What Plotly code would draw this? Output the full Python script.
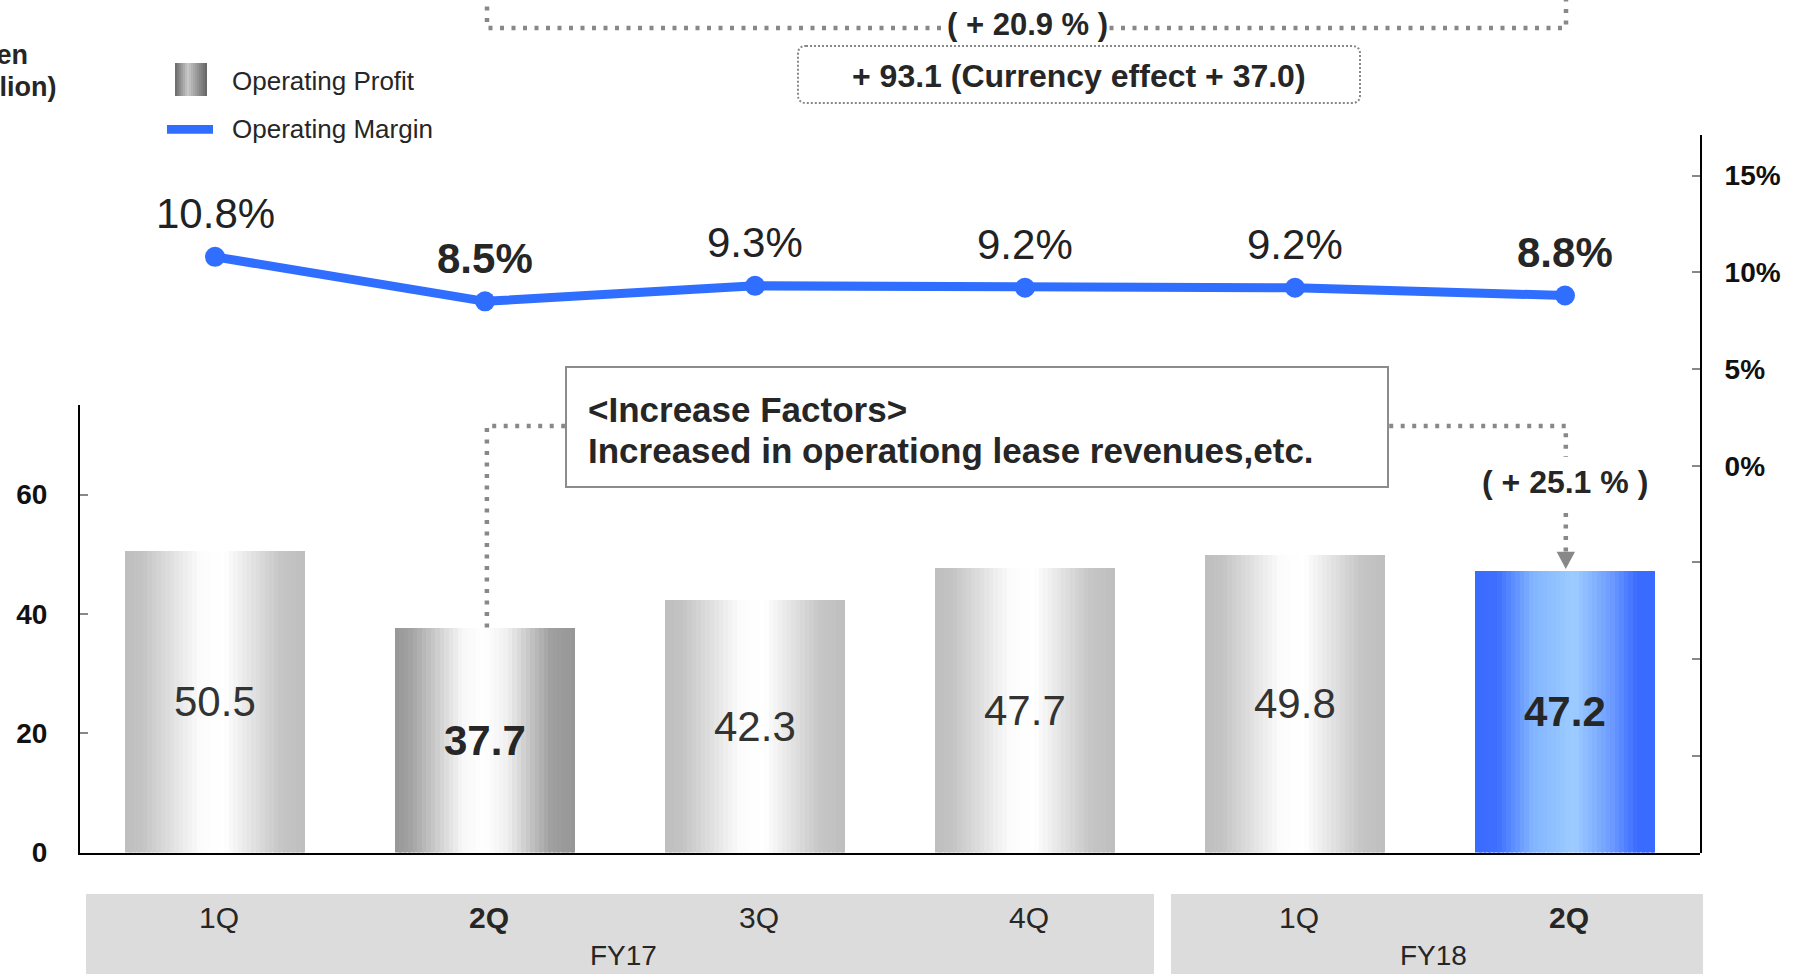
import plotly.graph_objects as go

# ---------------- data ----------------
quarters = ["1Q", "2Q", "3Q", "4Q", "1Q", "2Q"]
fiscal_years = ["FY17", "FY18"]
fiscal_year_members = [[0, 1, 2, 3], [4, 5]]
operating_profit = [50.5, 37.7, 42.3, 47.7, 49.8, 47.2]
operating_margin = [10.8, 8.5, 9.3, 9.2, 9.2, 8.8]
highlight = [False, True, False, False, False, True]
profit_ticks = [0, 20, 40, 60]
margin_ticks = [-20, -15, -10, -5, 0, 5, 10, 15]
margin_tick_labels = ["", "", "", "", "0%", "5%", "10%", "15%"]
legend_names = ["Operating Profit", "Operating Margin"]
unit_lines = ["(Yen", "billion)"]
half_growth = "( + 20.9 % )"
half_detail = "+ 93.1 (Currency effect + 37.0)"
q_growth = "( + 25.1 % )"
factor_title = "&lt;Increase Factors&gt;"
factor_text = "Increased in operationg lease revenues,etc."

# ---------------- style ----------------
W, H = 1800, 974
FONT = "Liberation Sans, Arial, sans-serif"
TXT = "#262626"
DOT = "#888888"
BLUE = "#2f6eff"
styles = ["dark" if h else "gray" for h in highlight]
styles[-1] = "blue"

gradients = {
    "gray": [(0.0, (190, 190, 190)), (0.1, (196, 196, 196)), (0.42, (252, 252, 252)),
             (0.55, (255, 255, 255)), (0.86, (198, 198, 198)), (1.0, (190, 190, 190))],
    "dark": [(0.0, (150, 150, 150)), (0.1, (165, 165, 165)), (0.38, (248, 248, 248)),
             (0.5, (255, 255, 255)), (0.62, (240, 240, 240)), (0.86, (160, 160, 160)),
             (1.0, (150, 150, 150))],
    "blue": [(0.0, (58, 107, 255)), (0.13, (62, 112, 255)), (0.32, (130, 180, 255)),
             (0.55, (157, 205, 255)), (0.76, (108, 154, 255)), (0.9, (58, 107, 255)),
             (1.0, (58, 107, 255))],
    "legend": [(0.0, (105, 105, 105)), (0.4, (200, 200, 200)), (1.0, (100, 100, 100))],
}


def grad_color(name, t):
    stops = gradients[name]
    for (p0, c0), (p1, c1) in zip(stops[:-1], stops[1:]):
        if p0 <= t <= p1:
            f = 0 if p1 == p0 else (t - p0) / (p1 - p0)
            c = [round(a + (b - a) * f) for a, b in zip(c0, c1)]
            return "rgb(%d,%d,%d)" % tuple(c)
    return "rgb(%d,%d,%d)" % stops[-1][1]


def px(x):
    return x / W


def py(y):
    return 1 - y / H


X0, X1 = 80, 1700
Y_BOTTOM, Y_TOP, Y2_TOP = 852.5, 405, 135

idx = list(range(len(quarters)))
fig = go.Figure()

# gradient bars (strips)
BW = 0.67
N = 40
sw = BW / N
for k in range(N):
    t = (k + 0.5) / N
    fig.add_trace(go.Bar(
        x=idx, y=operating_profit,
        width=sw * 1.6 if k < N - 1 else sw,
        offset=-BW / 2 + k * sw,
        marker=dict(color=[grad_color(s, t) for s in styles], line=dict(width=0)),
        hoverinfo="skip", showlegend=False, xaxis="x", yaxis="y",
    ))

# margin line
fig.add_trace(go.Scatter(
    x=idx, y=operating_margin, mode="lines+markers", xaxis="x", yaxis="y2",
    line=dict(color=BLUE, width=9), marker=dict(color=BLUE, size=20),
    showlegend=False, hoverinfo="skip",
))

annotations = []
shapes = []

# bar value labels
for i, v in enumerate(operating_profit):
    t = "<b>%.1f</b>" % v if highlight[i] else "%.1f" % v
    annotations.append(dict(x=i, y=v / 2, xref="x", yref="y", text=t, showarrow=False,
                            font=dict(size=42, color=TXT if highlight[i] else "#333333", family=FONT),
                            xanchor="center", yanchor="middle"))

# margin labels
for i, m in enumerate(operating_margin):
    t = "<b>%.1f%%</b>" % m if highlight[i] else "%.1f%%" % m
    annotations.append(dict(x=i, y=m, xref="x", yref="y2", text=t, showarrow=False,
                            font=dict(size=42, color=TXT if highlight[i] else "#222222", family=FONT),
                            xanchor="center", yanchor="middle", yshift=43))

# category band
band_px = [(86, 1154), (1171, 1703)]
for (a, b) in band_px:
    shapes.append(dict(type="rect", xref="paper", yref="paper", x0=px(a), x1=px(b),
                       y0=0, y1=py(894), fillcolor="#dcdcdc", line=dict(width=0), layer="below"))
for i, q in enumerate(quarters):
    t = "<b>%s</b>" % q if highlight[i] else q
    annotations.append(dict(x=i, y=py(917), xref="x", yref="paper", text=t, showarrow=False,
                            xshift=4, font=dict(size=30, color=TXT, family=FONT),
                            xanchor="center", yanchor="middle"))
for fy, mem in zip(fiscal_years, fiscal_year_members):
    annotations.append(dict(x=sum(mem) / len(mem), y=py(955), xref="x", yref="paper", text=fy,
                            showarrow=False, xshift=3, font=dict(size=28, color=TXT, family=FONT),
                            xanchor="center", yanchor="middle"))

# unit label (cut off at the left edge as in the source slide)
annotations.append(dict(x=px(30), y=py(55), xref="paper", yref="paper", text="<b>%s</b>" % unit_lines[0],
                        showarrow=False, xanchor="right", yanchor="middle",
                        font=dict(size=27, color=TXT, family=FONT)))
annotations.append(dict(x=px(58), y=py(87), xref="paper", yref="paper", text="<b>%s</b>" % unit_lines[1],
                        showarrow=False, xanchor="right", yanchor="middle",
                        font=dict(size=27, color=TXT, family=FONT)))

# legend
LN = 16
lw = (207 - 175) / LN
for k in range(LN):
    shapes.append(dict(type="rect", xref="paper", yref="paper",
                       x0=px(175 + k * lw), x1=px(175 + (k + 1) * lw + (0.6 if k < LN - 1 else 0)),
                       y0=py(96), y1=py(63), fillcolor=grad_color("legend", (k + 0.5) / LN),
                       line=dict(width=0)))
shapes.append(dict(type="rect", xref="paper", yref="paper", x0=px(167), x1=px(213),
                   y0=py(133.7), y1=py(125), fillcolor=BLUE, line=dict(width=0)))
for name, yc in zip(legend_names, [81, 128.8]):
    annotations.append(dict(x=px(230), y=py(yc), xref="paper", yref="paper", text=name,
                            showarrow=False, xanchor="left", yanchor="middle",
                            font=dict(size=26, color=TXT, family=FONT)))

# top bracket (half-year growth)
shapes.append(dict(type="path", xref="paper", yref="paper",
                   path="M %f %f L %f %f L %f %f L %f %f" % (px(487), py(-5), px(487), py(28),
                                                           px(1566), py(28), px(1566), py(-5)),
                   line=dict(color=DOT, width=4.5, dash="4px,7.5px")))
annotations.append(dict(x=px(1027), y=py(24), xref="paper", yref="paper", text="<b>%s</b>" % half_growth,
                        showarrow=False, xanchor="center", yanchor="middle", bgcolor="white",
                        borderpad=0, font=dict(size=31, color=TXT, family=FONT)))

# rounded dotted box
bx0, bx1, by0, by1, r = 798, 1360, 46, 103, 8
path = ("M %f %f L %f %f Q %f %f %f %f L %f %f Q %f %f %f %f L %f %f Q %f %f %f %f L %f %f Q %f %f %f %f Z" % (
    px(bx0 + r), py(by0), px(bx1 - r), py(by0), px(bx1), py(by0), px(bx1), py(by0 + r),
    px(bx1), py(by1 - r), px(bx1), py(by1), px(bx1 - r), py(by1),
    px(bx0 + r), py(by1), px(bx0), py(by1), px(bx0), py(by1 - r),
    px(bx0), py(by0 + r), px(bx0), py(by0), px(bx0 + r), py(by0)))
shapes.append(dict(type="path", xref="paper", yref="paper", path=path,
                   line=dict(color=DOT, width=2, dash="2px,2px")))
annotations.append(dict(x=px(1079), y=py(76), xref="paper", yref="paper", text="<b>%s</b>" % half_detail,
                        showarrow=False, xanchor="center", yanchor="middle",
                        font=dict(size=32, color=TXT, family=FONT)))

# lower bracket (quarter growth) in data coords
b_from, b_to = 1, 5
bracket_y = 71.5
shapes.append(dict(type="path", xref="x", yref="y",
                   path="M %f %f L %f %f L %f %f L %f %f" % (
                       b_from + 0.007, operating_profit[b_from], b_from + 0.007, bracket_y,
                       b_to + 0.003, bracket_y, b_to + 0.003, 66.3),
                   line=dict(color=DOT, width=4.5, dash="4px,7.5px")))
annotations.append(dict(x=b_to, y=62.1, xref="x", yref="y", text="<b>%s</b>" % q_growth,
                        showarrow=False, xanchor="center", yanchor="middle",
                        font=dict(size=32, color=TXT, family=FONT)))
shapes.append(dict(type="line", xref="x", yref="y", x0=b_to + 0.003, x1=b_to + 0.003,
                   y0=56.9, y1=50.2, line=dict(color=DOT, width=4.5, dash="4px,7.5px")))
tip = operating_profit[b_to] + 0.3
shapes.append(dict(type="path", xref="x", yref="y",
                   path="M %f %f L %f %f L %f %f Z" % (b_to + 0.003 - 0.034, tip + 2.9,
                                                      b_to + 0.003 + 0.034, tip + 2.9,
                                                      b_to + 0.003, tip),
                   fillcolor=DOT, line=dict(width=0)))

# increase factor box
shapes.append(dict(type="rect", xref="paper", yref="paper", x0=px(566), x1=px(1388),
                   y0=py(487), y1=py(367), fillcolor="white", line=dict(color="#8c8c8c", width=2)))
annotations.append(dict(x=px(586), y=py(409), xref="paper", yref="paper", text="<b>%s</b>" % factor_title,
                        showarrow=False, xanchor="left", yanchor="middle",
                        font=dict(size=35, color=TXT, family=FONT)))
annotations.append(dict(x=px(586), y=py(450), xref="paper", yref="paper", text="<b>%s</b>" % factor_text,
                        showarrow=False, xanchor="left", yanchor="middle",
                        font=dict(size=35, color=TXT, family=FONT)))

fig.update_layout(
    width=W, height=H, margin=dict(l=0, r=0, t=0, b=0, pad=0),
    paper_bgcolor="white", plot_bgcolor="rgba(0,0,0,0)", barmode="overlay",
    bargap=0, showlegend=False, font=dict(family=FONT, color=TXT),
    xaxis=dict(domain=[px(X0), px(X1)], range=[-0.5, len(quarters) - 0.5], showgrid=False,
               zeroline=False, showline=True, linecolor="black", linewidth=2,
               showticklabels=False, ticks="", automargin=False, anchor="y", fixedrange=True),
    yaxis=dict(domain=[py(Y_BOTTOM), py(Y_TOP)], range=[0, 75], showgrid=False, zeroline=False,
               showline=True, linecolor="black", linewidth=2, ticks="inside", ticklen=8,
               tickwidth=2, tickcolor="#888888", tickvals=profit_ticks,
               ticktext=["<b>%d</b>" % v for v in profit_ticks], ticklabelstandoff=25,
               tickfont=dict(size=28, color="#111111", family=FONT), automargin=False,
               anchor="x", fixedrange=True),
    yaxis2=dict(domain=[py(Y_BOTTOM), py(Y2_TOP)], range=[-20, 17.1], showgrid=False,
                zeroline=False, showline=True, linecolor="black", linewidth=2, side="right",
                anchor="x", ticks="inside", ticklen=8, tickwidth=2, tickcolor="#888888",
                tickvals=margin_ticks, ticktext=["<b>%s</b>" % t if t else "" for t in margin_tick_labels],
                ticklabelstandoff=17, tickfont=dict(size=28, color="#111111", family=FONT),
                automargin=False, fixedrange=True),
    shapes=shapes, annotations=annotations,
)

fig.write_html("out.html", config={"displayModeBar": False},
               post_script="document.body.style.margin='0';document.body.style.overflow='hidden';")
